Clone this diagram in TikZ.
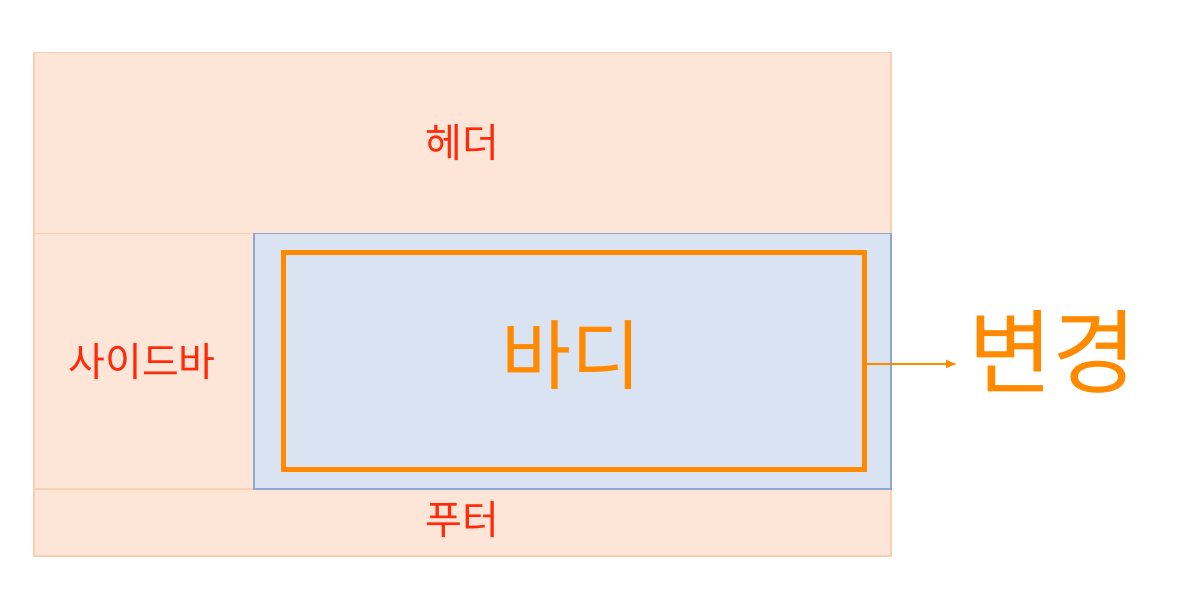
\documentclass[tikz,border=0pt]{standalone}
\usepackage{fontspec}
\usetikzlibrary{arrows.meta}
\setmainfont{Noto Sans CJK KR}
\definecolor{peach}{HTML}{FDE6D7}
\definecolor{peachline}{HTML}{F9CFB0}
\definecolor{bluefill}{HTML}{DAE3F2}
\definecolor{blueline}{HTML}{8EA8D4}
\definecolor{orng}{HTML}{FF8A00}
\definecolor{redtxt}{HTML}{FF2A0A}
\tikzset{
  region/.style={draw=peachline, fill=peach, line width=1.5pt, inner sep=0pt},
  redlabel/.style={text=redtxt, font=\fontsize{40}{46}\selectfont},
}
\begin{document}
\begin{tikzpicture}[x=1pt,y=1pt]
\useasboundingbox (0,0) rectangle (1178,606);
% header (y 52..233)
\node[region, minimum width=857pt, minimum height=181pt, anchor=north west] (header) at (33,554) {};
% sidebar (y 233..488)
\node[region, minimum width=220pt, minimum height=255pt, anchor=north west] (sidebar) at (33,373) {};
% footer (y 488..555)
\node[region, minimum width=857pt, minimum height=67pt, anchor=north west] (footer) at (33,118) {};
% body
\node[draw=blueline, fill=bluefill, line width=1.5pt, minimum width=637pt, minimum height=255pt, anchor=north west, inner sep=0pt] (body) at (253,373) {};
% inner orange
\node[draw=orng, line width=5pt, minimum width=581pt, minimum height=217pt, anchor=north west, inner sep=0pt] (inner) at (281,356) {};
% labels
\node[redlabel] (htxt) at (462,463) {헤더};
\node[redlabel] (stxt) at (142,244) {사이드바};
\node[redlabel] (ftxt) at (462,86) {푸터};
\node[text=orng, font=\fontsize{76}{86}\selectfont] (btxt) at (571,251) {바디};
\node[text=orng, font=\fontsize{92}{100}\selectfont, anchor=west, inner sep=0pt] (change) at (968,254) {변경};
\path (inner.east) ++(90,-3) coordinate (tip);
\draw[orng, line width=1.5pt, -{Latex[length=11pt,width=9pt]}] (inner.east |- tip) -- (tip);
\end{tikzpicture}
\end{document}
